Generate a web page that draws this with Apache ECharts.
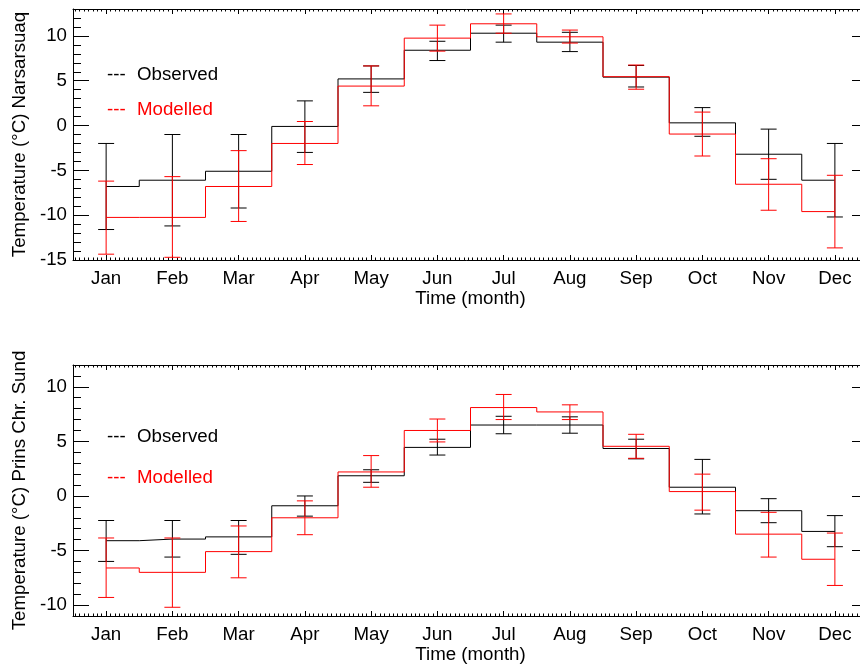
<!DOCTYPE html>
<html><head><meta charset="utf-8">
<script src="https://cdn.jsdelivr.net/npm/echarts@6/dist/echarts.min.js"></script>
<style>html,body{margin:0;padding:0;background:#fff}#c{width:860px;height:666px}</style>
</head><body><div id="c"></div>
<script>
const months = ['Jan','Feb','Mar','Apr','May','Jun','Jul','Aug','Sep','Oct','Nov','Dec'];
const monthPos = [1,2,3,4,5,6,7,8,9,10,11,12];

// Narsarsuaq (top panel)
const narObs   = [-6.8, -6.1, -5.1, -0.1, 5.2, 8.4, 10.3, 9.3, 5.4, 0.3, -3.2, -6.1];
const narObsHi = [-2.0, -1.0, -1.0, 2.75, 6.65, 9.4, 11.2, 10.4, 6.7, 2.0, -0.4, -2.0];
const narObsLo = [-11.6, -11.2, -9.2, -3.0, 3.7, 7.25, 9.3, 8.25, 4.3, -1.2, -6.0, -10.2];
const narMod   = [-10.25, -10.25, -6.8, -2.0, 4.4, 9.75, 11.35, 9.9, 5.45, -0.95, -6.55, -9.6];
const narModHi = [-6.2, -5.7, -2.8, 0.45, 6.65, 11.2, 12.45, 10.65, 6.75, 1.5, -3.7, -5.55];
const narModLo = [-14.35, -14.7, -10.7, -4.35, 2.2, 8.3, 10.3, 9.2, 4.05, -3.4, -9.45, -13.65];

// Prins Chr. Sund (bottom panel)
const pcsObs   = [-4.1, -3.95, -3.75, -0.9, 1.85, 4.45, 6.5, 6.5, 4.35, 0.8, -1.35, -3.25];
const pcsObsHi = [-2.25, -2.25, -2.25, 0.0, 2.4, 5.2, 7.3, 7.25, 5.2, 3.35, -0.25, -1.8];
const pcsObsLo = [-6.0, -5.6, -5.35, -1.85, 1.25, 3.75, 5.7, 5.75, 3.4, -1.65, -2.45, -4.65];
const pcsMod   = [-6.6, -7.0, -5.1, -2.0, 2.2, 6.0, 8.1, 7.7, 4.55, 0.4, -3.5, -5.8];
const pcsModHi = [-3.85, -3.85, -2.75, -0.45, 3.7, 7.05, 9.3, 8.35, 5.65, 2.0, -1.5, -3.4];
const pcsModLo = [-9.3, -10.2, -7.5, -3.55, 0.8, 4.95, 7.0, 7.0, 3.45, -1.3, -5.6, -8.2];

const FONT = '"Liberation Sans", Arial, Helvetica, sans-serif';
const FS = 18.7;
const BLACK = '#000000', RED = '#ff0000';

function isInt(v){ return Math.abs(v - Math.round(v)) < 1e-6; }

function xAx(gridIndex, pos, showLabel, name){
  return {
    type:'value', gridIndex, position:pos, min:0.5, max:12.5,
    minInterval:1, maxInterval:1, splitNumber:12,
    axisLine:{show:true, onZero:false, lineStyle:{color:BLACK, width:1}},
    axisTick:{show:true, inside:true, length:5, lineStyle:{color:BLACK, width:1}},
    minorTick:{show:true, splitNumber:15, length:2.5, lineStyle:{color:BLACK, width:1}},
    axisLabel:{show:showLabel, margin:9, fontSize:FS, color:BLACK, fontFamily:FONT,
      formatter: v => isInt(v) ? (months[Math.round(v)-1] || '') : ''},
    splitLine:{show:false},
    name: name || '', nameLocation:'middle', nameGap:29,
    nameTextStyle:{fontSize:FS, color:BLACK, fontFamily:FONT}
  };
}
function yAx(gridIndex, pos, showLabel, min, max, name){
  return {
    type:'value', gridIndex, position:pos, min, max,
    minInterval:5, maxInterval:5, splitNumber:5,
    axisLine:{show:true, onZero:false, lineStyle:{color:BLACK, width:1}},
    axisTick:{show:true, inside:true, length:16, lineStyle:{color:BLACK, width:1}},
    minorTick:{show:true, splitNumber:5, length:8, lineStyle:{color:BLACK, width:1}},
    axisLabel:{show:showLabel, margin:6, fontSize:FS, color:BLACK, fontFamily:FONT,
      formatter: v => (isInt(v) && Math.round(v) % 5 === 0) ? String(Math.round(v)) : ''},
    splitLine:{show:false},
    name: name || '', nameLocation:'middle', nameGap:42, nameRotate:90,
    nameTextStyle:{fontSize:FS, color:BLACK, fontFamily:FONT}
  };
}

function pairs(vals){ return monthPos.map((m,i)=>[m, vals[i]]); }
function errData(lo, hi){ return monthPos.map((m,i)=>[m, lo[i], hi[i]]); }

function errRender(color){
  return function(params, api){
    const x = api.value(0), lo = api.value(1), hi = api.value(2);
    const pHi = api.coord([x, hi]), pLo = api.coord([x, lo]);
    const w = 8;
    const style = {stroke:color, lineWidth:1, fill:null};
    return {type:'group', children:[
      {type:'line', shape:{x1:pHi[0], y1:pHi[1], x2:pLo[0], y2:pLo[1]}, style},
      {type:'line', shape:{x1:pHi[0]-w, y1:pHi[1], x2:pHi[0]+w, y2:pHi[1]}, style},
      {type:'line', shape:{x1:pLo[0]-w, y1:pLo[1], x2:pLo[0]+w, y2:pLo[1]}, style}
    ]};
  };
}

function stepSeries(xi, yi, vals, color, z){
  return {type:'line', xAxisIndex:xi, yAxisIndex:yi, data:pairs(vals), step:'middle',
    symbol:'none', lineStyle:{color, width:1}, itemStyle:{color}, z, animation:false, silent:true};
}
function errSeries(xi, yi, lo, hi, color, z){
  return {type:'custom', xAxisIndex:xi, yAxisIndex:yi, data:errData(lo, hi),
    encode:{x:0, y:[1,2]}, renderItem:errRender(color), z, animation:false, silent:true};
}

function legendTexts(yObs, yMod){
  return [
    {type:'text', x:107, y:yObs, style:{text:'---', fill:BLACK, font:FS+'px '+FONT, verticalAlign:'middle'}},
    {type:'text', x:137, y:yObs, style:{text:'Observed', fill:BLACK, font:FS+'px '+FONT, verticalAlign:'middle'}},
    {type:'text', x:107, y:yMod, style:{text:'---', fill:RED, font:FS+'px '+FONT, verticalAlign:'middle'}},
    {type:'text', x:137, y:yMod, style:{text:'Modelled', fill:RED, font:FS+'px '+FONT, verticalAlign:'middle'}}
  ];
}

const chart = echarts.init(document.getElementById('c'), null, {renderer:'canvas'});
chart.setOption({
  animation:false,
  backgroundColor:'#ffffff',
  textStyle:{fontFamily:FONT},
  grid:[
    {left:73, width:795, top:9, height:251, containLabel:false, outerBoundsMode:'none'},
    {left:73, width:795, top:365, height:251, containLabel:false, outerBoundsMode:'none'}
  ],
  xAxis:[
    xAx(0,'bottom',true,'Time (month)'),
    xAx(0,'top',false),
    xAx(1,'bottom',true,'Time (month)'),
    xAx(1,'top',false)
  ],
  yAxis:[
    yAx(0,'left',true,-15,13,'Temperature (°C) Narsarsuaq'),
    yAx(0,'right',false,-15,13),
    yAx(1,'left',true,-11,12,'Temperature (°C) Prins Chr. Sund'),
    yAx(1,'right',false,-11,12)
  ],
  series:[
    stepSeries(0,0,narObs,BLACK,2),
    errSeries(0,0,narObsLo,narObsHi,BLACK,2),
    stepSeries(0,0,narMod,RED,3),
    errSeries(0,0,narModLo,narModHi,RED,3),
    stepSeries(2,2,pcsObs,BLACK,2),
    errSeries(2,2,pcsObsLo,pcsObsHi,BLACK,2),
    stepSeries(2,2,pcsMod,RED,3),
    errSeries(2,2,pcsModLo,pcsModHi,RED,3)
  ],
  graphic: legendTexts(75, 110).concat(legendTexts(437, 478))
});
</script>
</body></html>
